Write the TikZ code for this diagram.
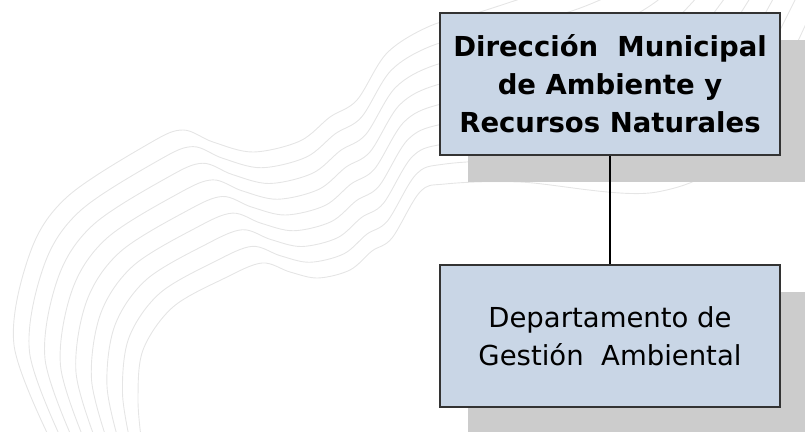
\documentclass[tikz,border=0pt]{standalone}
\usepackage{fontspec}
\setmainfont{DejaVu Sans}
\usetikzlibrary{positioning,shadows,calc}
\definecolor{boxblue}{HTML}{C9D6E6}

\begin{document}
\begin{tikzpicture}[x=1pt, y=-1pt]
		\tikzstyle{main}=[rectangle, minimum width=340pt, minimum height=142pt, draw=black!80, line width=2pt, fill=boxblue, align=center, font=\fontsize{27.5}{38}\selectfont, drop shadow={shadow xshift=28pt, shadow yshift=-27pt, fill=black!20, opacity=1}, node distance=108pt]
		\tikzstyle{connect}=[line width=2.6pt, draw=black]
		\tikzstyle{contour}=[draw=black!10, line width=0.9pt]
		\useasboundingbox (0,0) rectangle (805,431);
		% faint relief lines in the background
		\begin{scope}
		\clip (0,0) rectangle (805,431);
		\foreach \t in {0,0.125,...,1}
			\draw[contour] plot[smooth, tension=0.55] coordinates {
				($(53,445)!\t!(142,445)$) ($(14,345)!\t!(138,400)$) ($(30,253)!\t!(143,350)$)
				($(67,197)!\t!(173,307)$) ($(150,143)!\t!(225,278)$) ($(183,130)!\t!(262,263)$)
				($(213,142)!\t!(290,272)$) ($(253,152)!\t!(318,278)$) ($(300,141)!\t!(350,270)$)
				($(330,117)!\t!(372,251)$) ($(357,100)!\t!(392,238)$) ($(387,53)!\t!(420,192)$)
				($(430,26)!\t!(445,184)$) ($(480,12)!\t!(520,182)$) ($(560,-15)!\t!(657,192)$)
				($(620,-40)!\t!(745,140)$) ($(680,-60)!\t!(830,-30)$)};
		\end{scope}
		\node[main, font=\bfseries\fontsize{27.5}{38}\selectfont] (dir) at (610,84) {Dirección~ Municipal\\de Ambiente y\\Recursos Naturales};
		\node[main] (dep) [below =of dir] {Departamento de\\Gestión~ Ambiental};
		\path
		(dir) edge [connect] (dep)
		;
	\end{tikzpicture}
\end{document}
